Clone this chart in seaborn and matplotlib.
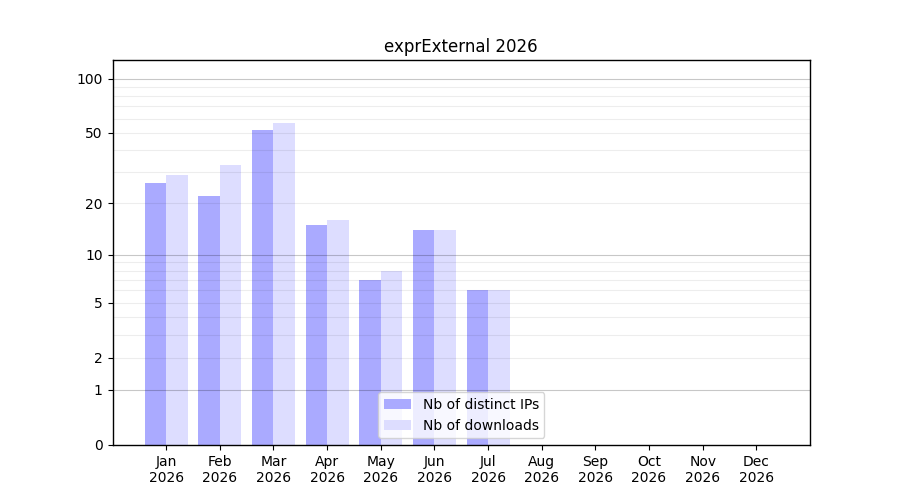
import numpy as np
import pandas as pd
import matplotlib
matplotlib.use("Agg")
import matplotlib.pyplot as plt
import seaborn as sns

months = ["Jan", "Feb", "Mar", "Apr", "May", "Jun", "Jul", "Aug", "Sep", "Oct", "Nov", "Dec"]
year = "2026"
distinct_ips = [26, 22, 52, 15, 7, 14, 6, 0, 0, 0, 0, 0]
downloads = [29, 33, 57, 16, 8, 14, 6, 0, 0, 0, 0, 0]
series_names = ["Nb of distinct IPs", "Nb of downloads"]
ytick_vals = [0, 1, 2, 5, 10, 20, 50, 100]
minor_vals = [3, 4, 6, 7, 8, 9, 30, 40, 60, 70, 80, 90]
major_grid_vals = [1, 10, 100]

labels = [f"{m}\n{year}" for m in months]
df = pd.DataFrame({
    "month": labels * 2,
    "value": distinct_ips + downloads,
    "series": [series_names[0]] * 12 + [series_names[1]] * 12,
})

sns.set_style("ticks")
plt.rcParams["font.family"] = ["DejaVu Sans"]
plt.rcParams["text.color"] = "black"
plt.rcParams["axes.labelcolor"] = "black"
plt.rcParams["xtick.color"] = "black"
plt.rcParams["ytick.color"] = "black"
plt.rcParams["axes.edgecolor"] = "black"
fig, ax = plt.subplots(figsize=(9, 5), dpi=100)

sns.barplot(data=df, x="month", y="value", hue="series", order=labels,
            hue_order=series_names, palette=["#aaaaff", "#ddddff"],
            saturation=1, width=0.8, ax=ax, errorbar=None, linewidth=0)

def fwd(x):
    return np.log10(np.clip(x, 0, None) + 1)

def inv(y):
    return 10 ** y - 1

ax.set_yscale("function", functions=(fwd, inv))
ax.set_ylim(0, 126.5)
ax.set_xlim(-1, 12)
ax.set_yticks(ytick_vals, labels=[str(v) for v in ytick_vals])
ax.set_yticks(minor_vals, minor=True)
ax.tick_params(axis="y", which="minor", length=0)
ax.tick_params(axis="both", which="major", colors="black", labelcolor="black")
ax.set_axisbelow(False)
for v in ytick_vals[1:] + minor_vals:
    if v not in major_grid_vals:
        ax.axhline(v, color="black", alpha=0.07, linewidth=0.8, zorder=3)
for v in major_grid_vals:
    ax.axhline(v, color="black", alpha=0.22, linewidth=0.8, zorder=3)

for s in ax.spines.values():
    s.set_visible(True)
    s.set_color("black")
    s.set_linewidth(1.0)

ax.set_xlabel("")
ax.set_ylabel("")
ax.set_title("exprExternal 2026", fontsize=12, color="black")
leg = ax.legend(loc="lower center", title=None, fontsize=10)
for t in leg.get_texts():
    t.set_color("black")
fig.subplots_adjust(left=0.125, right=0.9, top=0.88, bottom=0.11)
fig.savefig("out.png", dpi=100)
